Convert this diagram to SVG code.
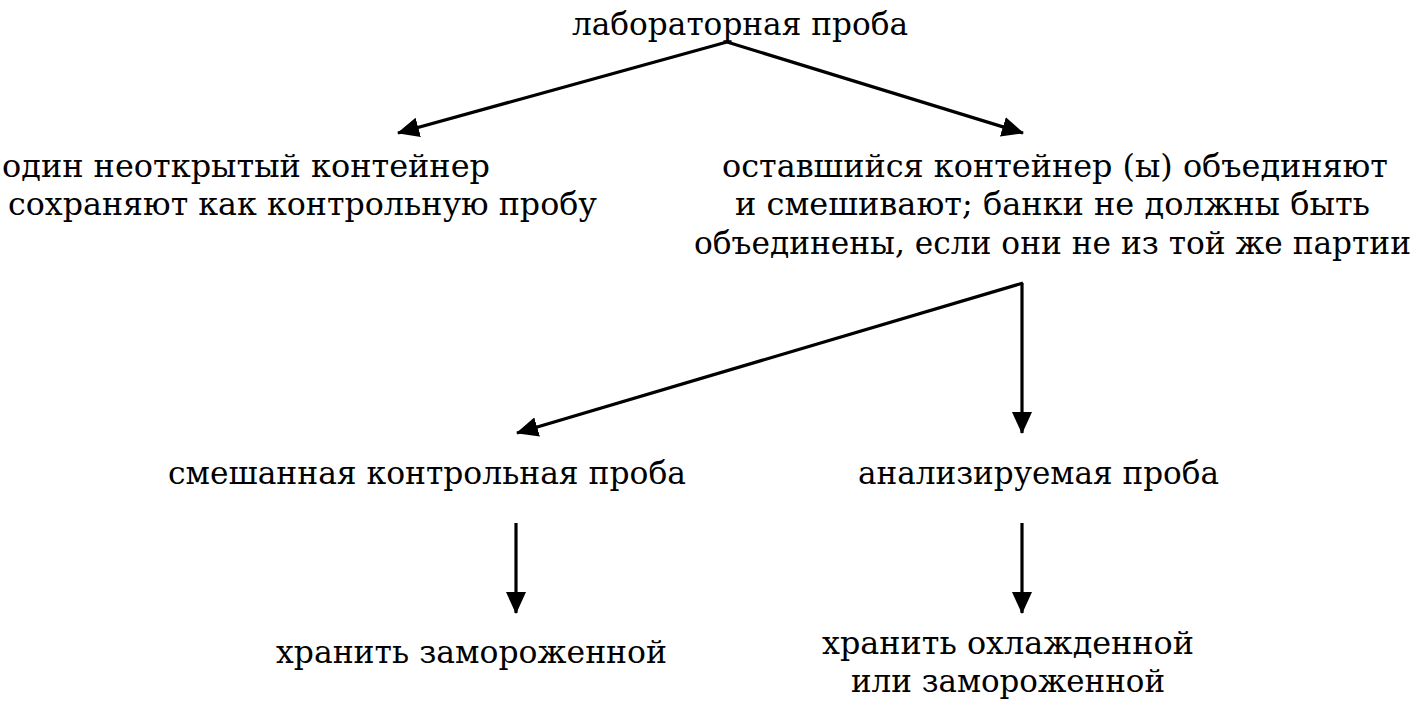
<svg xmlns="http://www.w3.org/2000/svg" width="1417" height="706" viewBox="0 0 1417 706">
<defs>
<style>
.c line{stroke:#000;stroke-width:3.2;fill:none;}
text{font-family:"DejaVu Serif","Liberation Serif",serif;font-size:31px;fill:#000;}
</style>
<marker id="ah" markerUnits="userSpaceOnUse" markerWidth="22" markerHeight="20" viewBox="0 0 22 20" refX="21" refY="10" orient="auto">
<path d="M0,0 L22,10 L0,20 Z" fill="#000"/>
</marker>
</defs>
<rect width="1417" height="706" fill="#fff"/>
<g id="connectors" class="c">
<line x1="727" y1="42" x2="398" y2="133" marker-end="url(#ah)"/>
<line x1="727" y1="42" x2="1023" y2="133" marker-end="url(#ah)"/>
<line x1="1023" y1="283" x2="517" y2="433" marker-end="url(#ah)"/>
<line x1="1022" y1="283" x2="1022" y2="433" marker-end="url(#ah)"/>
<line x1="516" y1="523" x2="516" y2="613" marker-end="url(#ah)"/>
<line x1="1022" y1="523" x2="1022" y2="613" marker-end="url(#ah)"/>
</g>
<g id="lab">
<text x="572" y="35" textLength="336" lengthAdjust="spacingAndGlyphs">лабораторная проба</text>
</g>
<g id="control">
<text x="2" y="177" textLength="488" lengthAdjust="spacingAndGlyphs">один неоткрытый контейнер</text>
<text x="8" y="215" textLength="589" lengthAdjust="spacingAndGlyphs">сохраняют как контрольную пробу</text>
</g>
<g id="remaining">
<text x="722" y="177" textLength="666" lengthAdjust="spacingAndGlyphs">оставшийся контейнер (ы) объединяют</text>
<text x="735" y="215" textLength="635" lengthAdjust="spacingAndGlyphs">и смешивают; банки не должны быть</text>
<text x="694" y="254" textLength="717" lengthAdjust="spacingAndGlyphs">объединены, если они не из той же партии</text>
</g>
<g id="mixed">
<text x="168" y="484" textLength="518" lengthAdjust="spacingAndGlyphs">смешанная контрольная проба</text>
</g>
<g id="analysed">
<text x="858" y="484" textLength="361" lengthAdjust="spacingAndGlyphs">анализируемая проба</text>
</g>
<g id="frozen">
<text x="276" y="663" textLength="391" lengthAdjust="spacingAndGlyphs">хранить замороженной</text>
</g>
<g id="chilled">
<text x="822" y="654" textLength="372" lengthAdjust="spacingAndGlyphs">хранить охлажденной</text>
<text x="851" y="692" textLength="314" lengthAdjust="spacingAndGlyphs">или замороженной</text>
</g>
</svg>
